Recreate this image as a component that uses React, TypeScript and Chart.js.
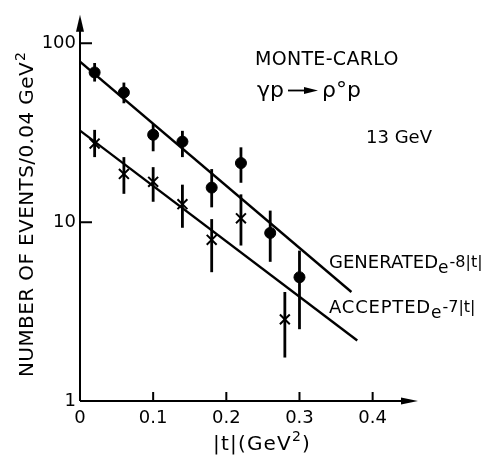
import React, { useEffect, useRef } from "react";
import { Chart, registerables } from "chart.js";

Chart.register(...registerables);

// ---- tick values / labels ----
const tickValuesX = [0, 0.1, 0.2, 0.3, 0.4];
const tickLabelsX = ["0", "0.1", "0.2", "0.3", "0.4"];
const tickValuesY = [1, 10, 100];
const tickLabelsY = ["1", "10", "100"];

// ---- generated events (filled circles) ----
const genT = [0.02, 0.06, 0.1, 0.14, 0.18, 0.22, 0.26, 0.3];
const genN = [68.7, 53.1, 30.8, 28.2, 15.6, 21.4, 8.7, 4.92];
const genLo = [61.1, 46.2, 24.9, 23.1, 12.1, 16.6, 6.0, 2.52];
const genHi = [77.6, 60.3, 35.4, 32.4, 19.8, 26.2, 11.6, 6.93];

// ---- accepted events (crosses) ----
const accT = [0.02, 0.06, 0.1, 0.14, 0.18, 0.22, 0.28];
const accN = [27.5, 18.6, 16.8, 12.6, 7.96, 10.5, 2.86];
const accLo = [23.1, 14.4, 13.0, 9.3, 5.25, 7.4, 1.75];
const accHi = [32.8, 23.1, 20.3, 16.2, 10.4, 14.3, 4.07];

// ---- fitted lines (end points) ----
const genFitT = [0, 0.371];
const genFitN = [79, 4.07];
const accFitT = [0, 0.379];
const accFitN = [32.5, 2.18];

const X_MAX = 0.462;
const Y_MAX = 144.3;

const FONT = "'DejaVu Sans', 'Liberation Sans', sans-serif";

function txt(ctx: CanvasRenderingContext2D, s: string, x: number, y: number, font: string, spacing = 0): number {
  ctx.font = font;
  (ctx as any).letterSpacing = spacing + "px";
  ctx.fillText(s, x, y);
  const w = ctx.measureText(s).width;
  (ctx as any).letterSpacing = "0px";
  return x + w;
}

const decor = {
  id: "decor",
  beforeDatasetsDraw(chart: any) {
    const ctx: CanvasRenderingContext2D = chart.ctx;
    const xs = chart.scales.x;
    const ys = chart.scales.y;
    ctx.save();
    ctx.strokeStyle = "#000";
    ctx.lineWidth = 2.8;
    const bars = (ts: number[], lo: number[], hi: number[]) => {
      ts.forEach((t, i) => {
        const px = xs.getPixelForValue(t);
        ctx.beginPath();
        ctx.moveTo(px, ys.getPixelForValue(lo[i]));
        ctx.lineTo(px, ys.getPixelForValue(hi[i]));
        ctx.stroke();
      });
    };
    bars(genT, genLo, genHi);
    bars(accT, accLo, accHi);
    ctx.restore();
  },
  afterDraw(chart: any) {
    const ctx: CanvasRenderingContext2D = chart.ctx;
    const xs = chart.scales.x;
    const ys = chart.scales.y;
    const { right, top } = chart.chartArea;
    const x0 = xs.getPixelForValue(0);
    const y0 = ys.getPixelForValue(1);
    ctx.save();
    ctx.strokeStyle = "#000";
    ctx.fillStyle = "#000";
    ctx.lineWidth = 2;
    // axes
    ctx.beginPath();
    ctx.moveTo(x0, y0);
    ctx.lineTo(x0, top + 10);
    ctx.moveTo(x0, y0);
    ctx.lineTo(right - 10, y0);
    ctx.stroke();
    // arrow heads
    ctx.beginPath();
    ctx.moveTo(x0, top);
    ctx.lineTo(x0 - 4, top + 17);
    ctx.lineTo(x0 + 4, top + 17);
    ctx.closePath();
    ctx.fill();
    ctx.beginPath();
    ctx.moveTo(right, y0);
    ctx.lineTo(right - 17, y0 - 3.5);
    ctx.lineTo(right - 17, y0 + 3.5);
    ctx.closePath();
    ctx.fill();
    // inward ticks
    ctx.lineWidth = 2;
    ctx.beginPath();
    [10, 100].forEach((v) => {
      const py = ys.getPixelForValue(v);
      ctx.moveTo(x0, py);
      ctx.lineTo(x0 + 12, py);
    });
    [0.1, 0.2, 0.3, 0.4].forEach((v) => {
      const px = xs.getPixelForValue(v);
      ctx.moveTo(px, y0);
      ctx.lineTo(px, y0 - 9);
    });
    ctx.stroke();

    // y-axis title
    ctx.textBaseline = "alphabetic";
    ctx.textAlign = "left";
    ctx.save();
    ctx.translate(33, 377);
    ctx.rotate(-Math.PI / 2);
    let e = txt(ctx, "NUMBER OF EVENTS/0.04 GeV", 0, 0, `20px ${FONT}`, 0.4);
    txt(ctx, "2", e + 1, -8, `14px ${FONT}`);
    ctx.restore();

    // x-axis title
    e = txt(ctx, "|t|(GeV", 213, 450, `20px ${FONT}`, 1.2);
    e = txt(ctx, "2", e, 441, `14px ${FONT}`);
    txt(ctx, ")", e + 1, 450, `20px ${FONT}`);

    // annotations
    txt(ctx, "MONTE-CARLO", 255, 65, `19px ${FONT}`, 0.3);
    e = txt(ctx, "γp", 257, 97, `22px ${FONT}`);
    ctx.lineWidth = 1.8;
    ctx.beginPath();
    ctx.moveTo(e + 4, 90.5);
    ctx.lineTo(e + 24, 90.5);
    ctx.stroke();
    ctx.beginPath();
    ctx.moveTo(e + 34, 90.5);
    ctx.lineTo(e + 20, 87);
    ctx.lineTo(e + 20, 94);
    ctx.closePath();
    ctx.fill();
    txt(ctx, "ρ°p", 322, 97, `22px ${FONT}`);
    txt(ctx, "13 GeV", 366, 143, `18px ${FONT}`);

    e = txt(ctx, "GENERATED", 329, 268, `18px ${FONT}`);
    e = txt(ctx, "e", e, 273, `17px ${FONT}`);
    txt(ctx, "-8|t|", e + 1, 267, `16px ${FONT}`);
    e = txt(ctx, "ACCEPTED", 329, 313, `18px ${FONT}`, 0.8);
    e = txt(ctx, "e", e, 318, `17px ${FONT}`);
    txt(ctx, "-7|t|", e + 1, 312, `16px ${FONT}`);
    ctx.restore();
  },
};

export default function App() {
  const ref = useRef<HTMLCanvasElement | null>(null);
  useEffect(() => {
    document.body.style.margin = "0";
    const canvas = ref.current;
    if (!canvas) return;
    const chart = new Chart(canvas, {
      type: "scatter",
      data: {
        datasets: [
          {
            label: "generated fit",
            data: genFitT.map((t, i) => ({ x: t, y: genFitN[i] })),
            showLine: true,
            borderColor: "#000",
            borderWidth: 2.4,
            pointRadius: 0,
            fill: false,
          },
          {
            label: "accepted fit",
            data: accFitT.map((t, i) => ({ x: t, y: accFitN[i] })),
            showLine: true,
            borderColor: "#000",
            borderWidth: 2.4,
            pointRadius: 0,
            fill: false,
          },
          {
            label: "generated",
            data: genT.map((t, i) => ({ x: t, y: genN[i] })),
            pointStyle: "circle",
            pointRadius: 5.5,
            backgroundColor: "#000",
            borderColor: "#000",
            borderWidth: 1,
          },
          {
            label: "accepted",
            data: accT.map((t, i) => ({ x: t, y: accN[i] })),
            pointStyle: "crossRot",
            pointRadius: 7,
            borderColor: "#000",
            backgroundColor: "#000",
            borderWidth: 2,
          },
        ],
      } as any,
      options: {
        responsive: false,
        animation: false,
        layout: { padding: { left: 0, top: 8, right: 72, bottom: 0 } },
        plugins: { legend: { display: false }, tooltip: { enabled: false } },
        scales: {
          x: {
            type: "linear",
            min: 0,
            max: X_MAX,
            grid: { display: false, drawTicks: false },
            border: { display: false },
            afterBuildTicks: (s: any) => {
              s.ticks = tickValuesX.map((v) => ({ value: v }));
            },
            afterFit: (s: any) => {
              s.height = 54;
            },
            ticks: {
              callback: (_v: any, i: number) => tickLabelsX[i],
              font: { family: FONT, size: 18 },
              color: "#000",
              padding: 7,
              maxRotation: 0,
              autoSkip: false,
            },
          },
          y: {
            type: "logarithmic",
            min: 1,
            max: Y_MAX,
            grid: { display: false, drawTicks: false },
            border: { display: false },
            afterBuildTicks: (s: any) => {
              s.ticks = tickValuesY.map((v) => ({ value: v }));
            },
            afterFit: (s: any) => {
              s.width = 80;
            },
            ticks: {
              callback: (_v: any, i: number) => tickLabelsY[i],
              font: { family: FONT, size: 18 },
              color: "#000",
              padding: 4,
              autoSkip: false,
            },
          },
        },
      } as any,
      plugins: [decor],
    });
    return () => chart.destroy();
  }, []);
  return (
    <div style={{ width: 490, height: 455 }}>
      <canvas ref={ref} width={490} height={455} style={{ display: "block" }} />
    </div>
  );
}
